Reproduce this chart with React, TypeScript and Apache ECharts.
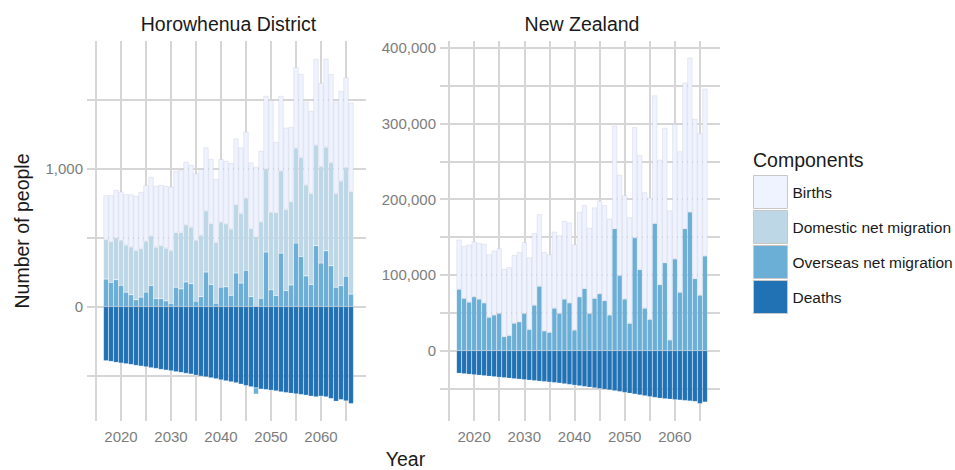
import React, { useEffect, useRef } from 'react';
import * as echarts from 'echarts';

// Projection years (one bar per year)
const years = [
  2017, 2018, 2019, 2020, 2021, 2022, 2023, 2024, 2025, 2026,
  2027, 2028, 2029, 2030, 2031, 2032, 2033, 2034, 2035, 2036,
  2037, 2038, 2039, 2040, 2041, 2042, 2043, 2044, 2045, 2046,
  2047, 2048, 2049, 2050, 2051, 2052, 2053, 2054, 2055, 2056,
  2057, 2058, 2059, 2060, 2061, 2062, 2063, 2064, 2065, 2066,
];

// Horowhenua District components (people)
const horoBirths = [
  321, 336, 351, 355, 368, 381, 396, 410, 409, 427,
  444, 441, 451, 466, 447, 452, 456, 452, 487, 478,
  460, 467, 461, 457, 457, 477, 480, 478, 483, 479,
  507, 515, 531, 815, 512, 543, 592, 540, 589, 606,
  604, 598, 625, 608, 640, 640, 665, 652, 655, 645,
];
const horoDomestic = [
  286, 295, 300, 324, 341, 347, 356, 352, 367, 359,
  372, 382, 382, 381, 396, 408, 414, 410, 440, 445,
  443, 441, 440, 471, 456, 481, 495, 505, 522, 493,
  505, 554, 600, 559, 600, 596, 588, 604, 686, 717,
  659, 660, 729, 697, 751, 748, 680, 758, 786, 743,
];
const horoOverseas = [
  199, 175, 194, 153, 104, 85, 49, 68, 104, 153,
  58, 58, 41, 22, 140, 128, 178, 165, 38, 72,
  250, 160, 24, 140, 143, 81, 243, 170, 262, 72,
  -45, 60, 395, 121, 80, 387, 116, 156, 460, 363,
  222, 160, 441, 315, 404, 296, 140, 152, 219, 90,
];
const horoDeaths = [
  -393, -398, -405, -410, -415, -420, -427, -432, -437, -444,
  -449, -456, -461, -466, -473, -478, -485, -490, -498, -505,
  -510, -517, -524, -532, -539, -546, -553, -563, -573, -582,
  -590, -599, -602, -607, -612, -619, -624, -629, -633, -638,
  -643, -650, -655, -650, -655, -667, -687, -675, -684, -704,
];

// New Zealand components (people)
const nzBirths = [
  65500, 69000, 76000, 73000, 74000, 78000, 83000, 85000, 86000, 89500,
  90000, 90000, 92000, 94000, 95000, 95000, 95000, 104000, 103000, 101000,
  103000, 103000, 106000, 113000, 112000, 110000, 113000, 120000, 123000, 126000,
  127000, 136000, 133000, 137000, 140000, 146000, 151000, 153000, 161000, 169000,
  165000, 178000, 171000, 178000, 186000, 193000, 204000, 211000, 214000, 221000,
];
const nzOverseas = [
  81000, 69000, 64000, 71000, 68000, 63000, 44000, 47000, 49000, 18500,
  20000, 36000, 38000, 49000, 28000, 60000, 85000, 26000, 24000, 56000,
  49000, 68000, 63000, 27000, 71000, 82000, 49000, 69000, 75000, 66000,
  47000, 161000, 99000, 68000, 36000, 149000, 107000, 56000, 41000, 168000,
  87000, 116000, 14000, 121000, 77000, 161000, 183000, 95000, 73000, 125000,
];
const nzDeaths = [
  -30000, -30600, -31300, -31900, -32600, -33200, -33900, -34500, -35200, -35800,
  -36500, -37100, -37800, -38400, -39100, -39700, -40400, -41000, -41700, -42300,
  -43000, -43900, -44800, -45700, -46600, -47500, -48400, -49300, -50200, -51100,
  -52000, -53100, -54200, -55300, -56400, -57500, -58600, -59700, -60800, -61900,
  -63000, -63600, -64200, -64800, -65400, -66000, -66600, -67200, -70000, -68000,
];

// Axis ticks / grid lines and labelled values
const xGridYears = [2015, 2020, 2025, 2030, 2035, 2040, 2045, 2050, 2055, 2060, 2065];
const xLabelYears = [2020, 2030, 2040, 2050, 2060];
const horoGridValues = [-500, 0, 500, 1000, 1500];
const horoLabelValues = [0, 1000];
const nzGridValues = [-50000, 0, 50000, 100000, 150000, 200000, 250000, 300000, 350000, 400000];
const nzLabelValues = [0, 100000, 200000, 300000, 400000];

const componentNames = ['Births', 'Domestic net migration', 'Overseas net migration', 'Deaths'];
const componentColors: Record<string, string> = {
  'Births': '#EFF3FF',
  'Domestic net migration': '#BDD7E7',
  'Overseas net migration': '#6BAED6',
  'Deaths': '#2171B5',
};

const FONT = '"Liberation Sans", Arial, Helvetica, sans-serif';
const GRID_COLOR = '#d6d6d6';
const TICK_TEXT = '#7d7d7d';
const DARK_TEXT = '#1a1a1a';

type Panel = {
  title: string;
  left: number;
  width: number;
  yMin: number;
  yMax: number;
  gridValues: number[];
  labelValues: number[];
  layers: { name: string; values: number[] }[];
};

// Layers are listed bottom-up: each one stacks on the previous ones of the same sign
const panels: Panel[] = [
  {
    title: 'Horowhenua District',
    left: 91,
    width: 275,
    yMin: -830,
    yMax: 1925,
    gridValues: horoGridValues,
    labelValues: horoLabelValues,
    layers: [
      { name: 'Deaths', values: horoDeaths },
      { name: 'Overseas net migration', values: horoOverseas },
      { name: 'Domestic net migration', values: horoDomestic },
      { name: 'Births', values: horoBirths },
    ],
  },
  {
    title: 'New Zealand',
    left: 444,
    width: 276,
    yMin: -93000,
    yMax: 409000,
    gridValues: nzGridValues,
    labelValues: nzLabelValues,
    layers: [
      { name: 'Deaths', values: nzDeaths },
      { name: 'Overseas net migration', values: nzOverseas },
      { name: 'Births', values: nzBirths },
    ],
  },
];

const PANEL_TOP = 41;
const PANEL_HEIGHT = 380;

function buildOption(): echarts.EChartsCoreOption {
  const gridLine = { color: GRID_COLOR, width: 2 };

  const grid = panels.map((p) => ({
    left: p.left,
    width: p.width,
    top: PANEL_TOP,
    height: PANEL_HEIGHT,
    containLabel: false,
  }));

  const xAxis = panels.map((p, i) => ({
    type: 'value',
    gridIndex: i,
    min: 2014,
    max: 2069,
    axisLine: { show: false },
    axisTick: { show: true, customValues: xGridYears, length: 4, lineStyle: gridLine },
    axisLabel: {
      customValues: xLabelYears,
      color: TICK_TEXT,
      fontSize: 15,
      fontFamily: FONT,
      margin: 8,
      formatter: (v: number) => String(v),
    },
    splitLine: { show: true, lineStyle: gridLine },
  }));

  const yAxis = panels.map((p, i) => ({
    type: 'value',
    gridIndex: i,
    min: p.yMin,
    max: p.yMax,
    axisLine: { show: false },
    axisTick: { show: true, customValues: p.gridValues, length: 4, lineStyle: gridLine },
    axisLabel: {
      customValues: p.labelValues,
      color: TICK_TEXT,
      fontSize: 15,
      fontFamily: FONT,
      margin: 8,
      formatter: (v: number) => v.toLocaleString('en-US'),
    },
    splitLine: { show: true, lineStyle: gridLine },
  }));

  const series: any[] = [];
  panels.forEach((p, i) => {
    p.layers.forEach((layer) => {
      const isBirths = layer.name === 'Births';
      series.push({
        type: 'bar',
        name: layer.name,
        xAxisIndex: i,
        yAxisIndex: i,
        stack: 'components-' + i,
        barWidth: '100%',
        // value first so that the stacked dimension is the y value
        encode: { x: 1, y: 0 },
        itemStyle: {
          color: componentColors[layer.name],
          borderColor: isBirths ? 'rgba(170,170,190,0.4)' : 'rgba(255,255,255,0.3)',
          borderWidth: 0.5,
        },
        emphasis: { disabled: true },
        data: years.map((y, k) => [layer.values[k], y]),
      });
    });
  });

  const textStyle = (size: number, color: string) => ({
    fontSize: size,
    fontFamily: FONT,
    fill: color,
  });

  const graphic: any[] = [
    ...panels.map((p) => ({
      type: 'text',
      x: p.left + p.width / 2,
      y: 24,
      style: { text: p.title, ...textStyle(19.5, DARK_TEXT), align: 'center', verticalAlign: 'middle' },
    })),
    {
      type: 'text',
      x: (panels[0].left + panels[1].left + panels[1].width) / 2,
      y: 459,
      style: { text: 'Year', ...textStyle(19.5, DARK_TEXT), align: 'center', verticalAlign: 'middle' },
    },
    {
      type: 'text',
      x: 22,
      y: PANEL_TOP + PANEL_HEIGHT / 2,
      rotation: Math.PI / 2,
      style: { text: 'Number of people', ...textStyle(19.5, DARK_TEXT), align: 'center', verticalAlign: 'middle' },
    },
    {
      type: 'text',
      x: 753,
      y: 160,
      style: { text: 'Components', ...textStyle(19.5, DARK_TEXT), align: 'left', verticalAlign: 'middle' },
    },
  ];

  return {
    animation: false,
    backgroundColor: '#ffffff',
    grid,
    xAxis,
    yAxis,
    series,
    graphic,
    legend: {
      orient: 'vertical',
      left: 753,
      top: 175,
      padding: 0,
      itemWidth: 34,
      itemHeight: 33,
      itemGap: 1,
      icon: 'rect',
      selectedMode: false,
      data: componentNames,
      itemStyle: { borderColor: '#c8c8c8', borderWidth: 1 },
      textStyle: { fontSize: 15.5, fontFamily: FONT, color: DARK_TEXT },
    },
  };
}

export default function App() {
  const ref = useRef<HTMLDivElement>(null);

  useEffect(() => {
    if (!ref.current) return;
    const chart = echarts.init(ref.current, null, { renderer: 'svg' });
    chart.setOption(buildOption());
    return () => {
      chart.dispose();
    };
  }, []);

  return (
    <div
      ref={ref}
      style={{ position: 'absolute', left: 0, top: 0, width: 955, height: 470, background: '#ffffff' }}
    />
  );
}
